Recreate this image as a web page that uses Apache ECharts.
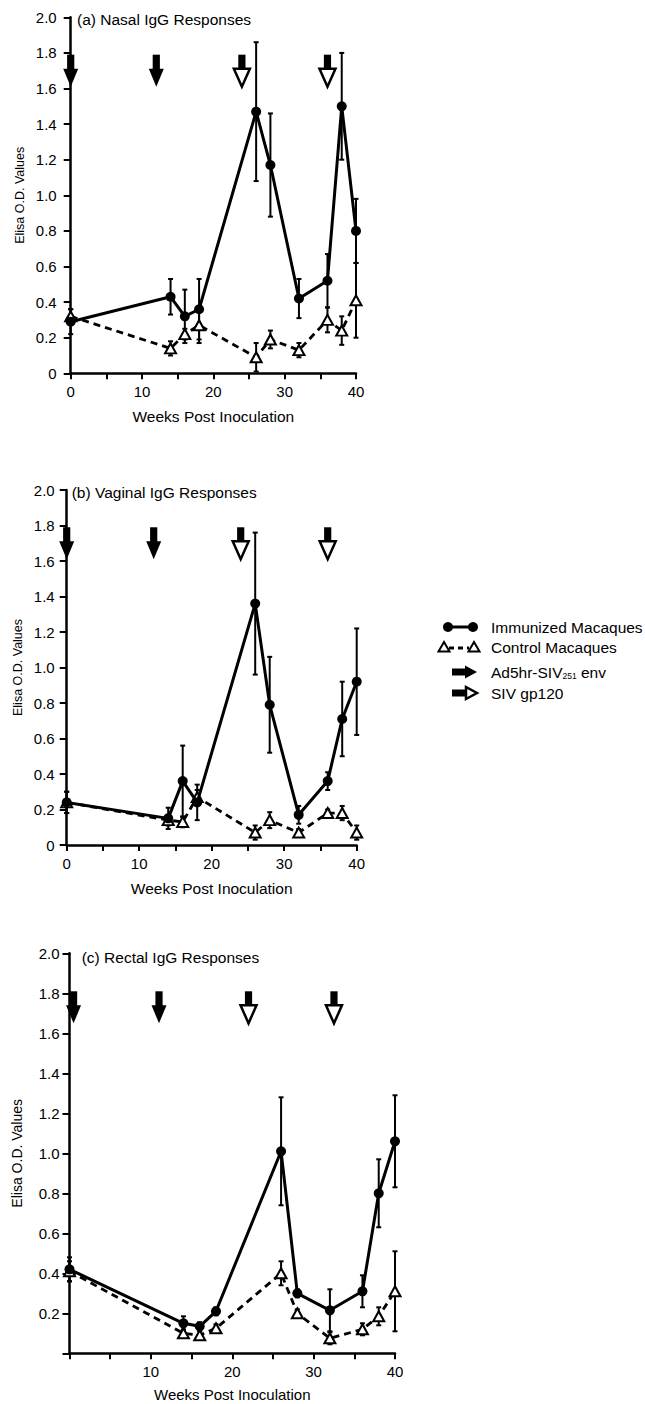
<!DOCTYPE html>
<html>
<head>
<meta charset="utf-8">
<script src="https://cdn.jsdelivr.net/npm/echarts@6/dist/echarts.min.js"></script>
<style>
  html, body { margin: 0; padding: 0; background: #fff; }
  #main { width: 645px; height: 1404px; }
</style>
</head>
<body>
<div id="main"></div>
<script>
// weeks post inoculation, ELISA O.D. means and error half-widths, per panel
const weeks = [0, 14, 16, 18, 26, 28, 32, 36, 38, 40]

const immA = [0.29, 0.43, 0.32, 0.36, 1.47, 1.17, 0.42, 0.52, 1.50, 0.80]
const immAErr = [0.07, 0.10, 0.15, 0.17, 0.39, 0.29, 0.11, 0.15, 0.30, 0.18]
const ctrlA = [0.32, 0.14, 0.22, 0.27, 0.09, 0.19, 0.13, 0.30, 0.24, 0.41]
const ctrlAErr = [0.04, 0.04, 0.03, 0.10, 0.08, 0.05, 0.04, 0.07, 0.08, 0.21]

const immB = [0.24, 0.15, 0.36, 0.24, 1.36, 0.79, 0.17, 0.36, 0.71, 0.92]
const immBErr = [0.06, 0.06, 0.20, 0.10, 0.40, 0.27, 0.05, 0.05, 0.21, 0.30]
const ctrlB = [0.24, 0.14, 0.13, 0.27, 0.07, 0.14, 0.07, 0.18, 0.18, 0.07]
const ctrlBErr = [0.06, 0.03, 0.03, 0.04, 0.04, 0.045, 0.02, 0.02, 0.04, 0.04]

const immC = [0.42, 0.15, 0.135, 0.21, 1.01, 0.30, 0.215, 0.31, 0.80, 1.06]
const immCErr = [0.06, 0.035, 0.02, 0.02, 0.27, 0.02, 0.105, 0.08, 0.17, 0.23]
const ctrlC = [0.41, 0.10, 0.09, 0.125, 0.40, 0.20, 0.075, 0.12, 0.185, 0.31]
const ctrlCErr = [0.05, 0.02, 0.02, 0.02, 0.06, 0.02, 0.03, 0.03, 0.045, 0.20]

// inoculation arrows: week and top of arrow (O.D. units)
const adArrowsAB = [0, 12]
const gpArrowsAB = [24, 36]
const adArrowsC = [0.5, 11]
const gpArrowsC = [22, 32.5]
const arrowTopAB = 1.79
const arrowTopC = 1.81

const titles = ['(a) Nasal IgG Responses', '(b) Vaginal IgG Responses', '(c) Rectal IgG Responses']
const xName = 'Weeks Post Inoculation'
const yName = 'Elisa O.D. Values'
const immName = 'Immunized Macaques'
const ctrlName = 'Control Macaques'
const adName = 'Ad5hr-SIV251 env'
const gpName = 'SIV gp120'

const FONT = '"Liberation Sans", Arial, Helvetica, sans-serif'

const layout = [
  { grid: { left: 70.7, top: 17.3, width: 285.3, height: 356 }, title: { left: 77, top: 11 }, showZero: true, yGap: 44, yNameSize: 12.5, yMargin: 14, xGap: 35, xNameSize: 15.5 },
  { grid: { left: 66.7, top: 490, width: 290, height: 355 }, title: { left: 71.7, top: 484 }, showZero: true, yGap: 42, yNameSize: 12.5, yMargin: 12, xGap: 35, xNameSize: 15.5 },
  { grid: { left: 69.5, top: 953.3, width: 325.5, height: 400 }, title: { left: 81.7, top: 949.5 }, showZero: false, yGap: 46, yNameSize: 14, yMargin: 10, xGap: 34, xNameSize: 15 }
]

const panelData = [
  { imm: immA, immErr: immAErr, ctrl: ctrlA, ctrlErr: ctrlAErr, ad: adArrowsAB, gp: gpArrowsAB, top: arrowTopAB },
  { imm: immB, immErr: immBErr, ctrl: ctrlB, ctrlErr: ctrlBErr, ad: adArrowsAB, gp: gpArrowsAB, top: arrowTopAB },
  { imm: immC, immErr: immCErr, ctrl: ctrlC, ctrlErr: ctrlCErr, ad: adArrowsC, gp: gpArrowsC, top: arrowTopC }
]

function errorItem (params, api) {
  const x = api.value(0)
  const hi = api.coord([x, api.value(2)])
  const lo = api.coord([x, api.value(1)])
  const c = 2.5
  const st = { stroke: '#000', lineWidth: 2 }
  return {
    type: 'group',
    children: [
      { type: 'line', shape: { x1: hi[0], y1: hi[1], x2: lo[0], y2: lo[1] }, style: st },
      { type: 'line', shape: { x1: hi[0] - c, y1: hi[1], x2: hi[0] + c, y2: hi[1] }, style: st },
      { type: 'line', shape: { x1: lo[0] - c, y1: lo[1], x2: lo[0] + c, y2: lo[1] }, style: st }
    ]
  }
}

function arrowItem (open) {
  return function (params, api) {
    const p = api.coord([api.value(0), api.value(1)])
    const sw = 3.6
    const sl = 14
    const hw = open ? 8 : 7.5
    const hl = 18
    return {
      type: 'group',
      children: [
        { type: 'rect', shape: { x: p[0] - sw, y: p[1], width: sw * 2, height: sl + 2 }, style: { fill: '#000' } },
        {
          type: 'polygon',
          shape: { points: [[p[0] - hw, p[1] + sl], [p[0] + hw, p[1] + sl], [p[0], p[1] + sl + hl]] },
          style: open ? { fill: '#fff', stroke: '#000', lineWidth: 2.5 } : { fill: '#000' }
        }
      ]
    }
  }
}

const grids = []
const xAxes = []
const yAxes = []
const titleList = []
const series = []

layout.forEach(function (L, i) {
  const D = panelData[i]
  grids.push(Object.assign({ outerBoundsMode: 'none', containLabel: false }, L.grid))
  titleList.push({
    text: titles[i], left: L.title.left, top: L.title.top, padding: 0,
    textStyle: { fontFamily: FONT, fontSize: 15.5, fontWeight: 'normal', color: '#000' }
  })
  xAxes.push({
    type: 'value', gridIndex: i, min: 0, max: 40, interval: 5,
    name: xName, nameLocation: 'middle', nameGap: L.xGap,
    nameTextStyle: { fontFamily: FONT, fontSize: L.xNameSize, color: '#000' },
    axisLine: { show: true, onZero: false, lineStyle: { color: '#000', width: 2.5 } },
    axisTick: { show: true, length: 6, lineStyle: { color: '#000', width: 2 } },
    axisLabel: {
      margin: 11, fontFamily: FONT, fontSize: 15, color: '#000',
      formatter: function (v) { return (v % 10 === 0 && (v > 0 || L.showZero)) ? String(v) : '' }
    },
    splitLine: { show: false }
  })
  yAxes.push({
    type: 'value', gridIndex: i, min: 0, max: 2, interval: 0.2,
    name: yName, nameLocation: 'middle', nameGap: L.yGap,
    nameTextStyle: { fontFamily: FONT, fontSize: L.yNameSize, color: '#000' },
    axisLine: { show: true, onZero: false, lineStyle: { color: '#000', width: 2.5 } },
    axisTick: { show: true, length: 7, lineStyle: { color: '#000', width: 2 } },
    axisLabel: {
      margin: L.yMargin, fontFamily: FONT, fontSize: 15, color: '#000',
      formatter: function (v) {
        if (Math.abs(v) < 1e-9) return L.showZero ? '0' : ''
        return v.toFixed(1)
      }
    },
    splitLine: { show: false }
  })

  series.push({
    name: immName + ' error', type: 'custom', xAxisIndex: i, yAxisIndex: i, z: 1,
    renderItem: errorItem, encode: { x: 0, y: [1, 2] }, silent: true,
    data: weeks.map(function (w, k) { return [w, D.imm[k] - D.immErr[k], D.imm[k] + D.immErr[k]] })
  })
  series.push({
    name: ctrlName + ' error', type: 'custom', xAxisIndex: i, yAxisIndex: i, z: 1,
    renderItem: errorItem, encode: { x: 0, y: [1, 2] }, silent: true,
    data: weeks.map(function (w, k) { return [w, Math.max(0, D.ctrl[k] - D.ctrlErr[k]), D.ctrl[k] + D.ctrlErr[k]] })
  })
  series.push({
    name: ctrlName, type: 'line', xAxisIndex: i, yAxisIndex: i, z: 2,
    symbol: 'triangle', symbolSize: [11, 10], showAllSymbol: true,
    lineStyle: { color: '#000', width: 2.8, type: [7, 5] },
    itemStyle: { color: '#fff', borderColor: '#000', borderWidth: 2 },
    data: weeks.map(function (w, k) { return [w, D.ctrl[k]] })
  })
  series.push({
    name: immName, type: 'line', xAxisIndex: i, yAxisIndex: i, z: 3,
    symbol: 'circle', symbolSize: 10, showAllSymbol: true,
    lineStyle: { color: '#000', width: 3 },
    itemStyle: { color: '#000', borderWidth: 0 },
    data: weeks.map(function (w, k) { return [w, D.imm[k]] })
  })
  series.push({
    name: adName, type: 'custom', xAxisIndex: i, yAxisIndex: i, z: 4,
    renderItem: arrowItem(false), encode: { x: 0, y: 1 }, silent: true,
    data: D.ad.map(function (w) { return [w, D.top] })
  })
  series.push({
    name: gpName, type: 'custom', xAxisIndex: i, yAxisIndex: i, z: 4,
    renderItem: arrowItem(true), encode: { x: 0, y: 1 }, silent: true,
    data: D.gp.map(function (w) { return [w, D.top] })
  })
})

// key on the right
const legendText = { fontFamily: FONT, fontSize: 15.5, fill: '#000', verticalAlign: 'middle' }
const keyX = 491
const rowY = [627, 647, 672, 693]
const graphic = [
  { type: 'line', shape: { x1: 448, y1: rowY[0], x2: 473, y2: rowY[0] }, style: { stroke: '#000', lineWidth: 3 } },
  { type: 'circle', shape: { cx: 448, cy: rowY[0], r: 5 }, style: { fill: '#000' } },
  { type: 'circle', shape: { cx: 473, cy: rowY[0], r: 5 }, style: { fill: '#000' } },
  { type: 'text', x: keyX, y: rowY[0], style: Object.assign({ text: immName }, legendText) },

  { type: 'line', shape: { x1: 449, y1: rowY[1] + 1, x2: 469, y2: rowY[1] + 1 }, style: { stroke: '#000', lineWidth: 2.8, lineDash: [5, 4] } },
  { type: 'polygon', shape: { points: [[444, rowY[1] - 5], [438.5, rowY[1] + 4.5], [449.5, rowY[1] + 4.5]] }, style: { fill: '#fff', stroke: '#000', lineWidth: 2 } },
  { type: 'polygon', shape: { points: [[474, rowY[1] - 5], [468.5, rowY[1] + 4.5], [479.5, rowY[1] + 4.5]] }, style: { fill: '#fff', stroke: '#000', lineWidth: 2 } },
  { type: 'text', x: keyX, y: rowY[1], style: Object.assign({ text: ctrlName }, legendText) },

  { type: 'rect', shape: { x: 452, y: rowY[2] - 3.5, width: 14, height: 7 }, style: { fill: '#000' } },
  { type: 'polygon', shape: { points: [[465, rowY[2] - 6.5], [465, rowY[2] + 6.5], [477, rowY[2]]] }, style: { fill: '#000' } },
  {
    type: 'text', x: keyX, y: rowY[2],
    style: {
      text: '{a|Ad5hr-SIV}{s|251}{a| env}', fill: '#000', verticalAlign: 'middle',
      rich: {
        a: { fontFamily: FONT, fontSize: 15.5, fill: '#000' },
        s: { fontFamily: FONT, fontSize: 8.5, fill: '#000', verticalAlign: 'bottom', padding: [0, 0, 0, 0] }
      }
    }
  },

  { type: 'rect', shape: { x: 452, y: rowY[3] - 3.5, width: 14, height: 7 }, style: { fill: '#000' } },
  { type: 'polygon', shape: { points: [[466, rowY[3] - 6], [466, rowY[3] + 6], [477, rowY[3]]] }, style: { fill: '#fff', stroke: '#000', lineWidth: 2.5 } },
  { type: 'text', x: keyX, y: rowY[3], style: Object.assign({ text: gpName }, legendText) }
]

const chart = echarts.init(document.getElementById('main'), null, { renderer: 'svg', width: 645, height: 1404 })
chart.setOption({
  backgroundColor: '#fff',
  animation: false,
  textStyle: { fontFamily: FONT },
  title: titleList,
  grid: grids,
  xAxis: xAxes,
  yAxis: yAxes,
  tooltip: { show: false },
  series: series,
  graphic: graphic
})
</script>
</body>
</html>
